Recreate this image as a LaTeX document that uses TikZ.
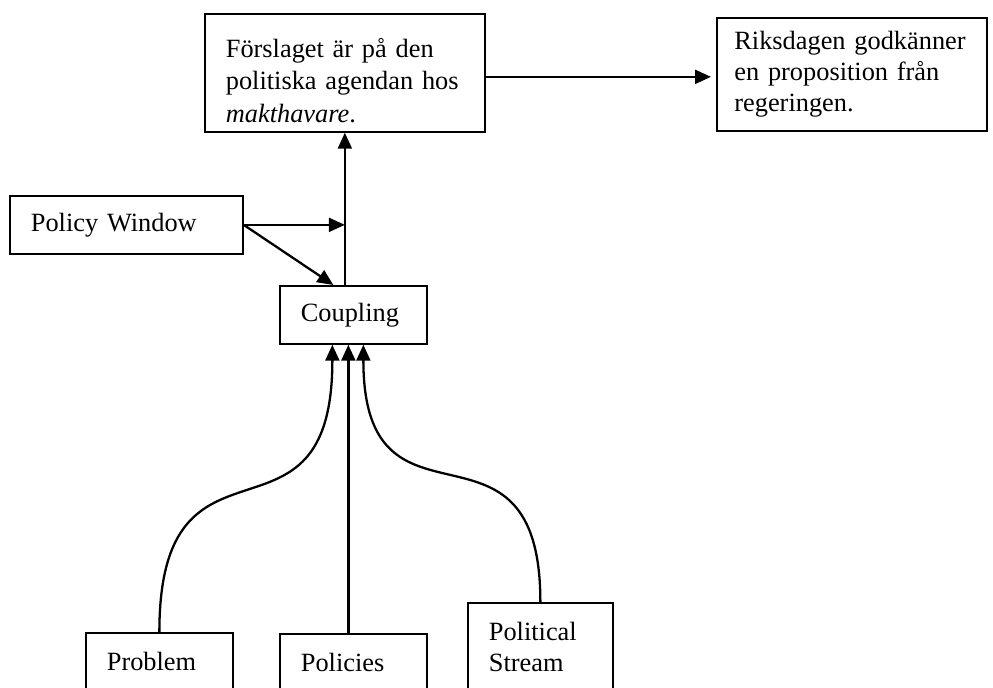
\documentclass[tikz,border=0pt]{standalone}
\usepackage{fontspec}
\setmainfont{Liberation Serif}
\usetikzlibrary{arrows.meta}

\tikzset{
  ruta/.style={draw, line width=1pt, anchor=north west, inner xsep=0.42cm,
    inner ysep=0.1cm, align=left, font=\fontsize{15}{17.5}\selectfont},
  pil/.style={line width=1.3pt, -{Triangle[length=0.32cm,width=0.28cm]}},
}

\begin{document}
\begin{tikzpicture}[x=0.02cm,y=-0.02cm]
      \clip (0,0) rectangle (993,688);

      % rutor
      \node[ruta, text width=4.76cm, minimum height=2.36cm, font=\fontsize{15}{18.5}\selectfont] (agenda) at (204,13)
        {\rule{0pt}{0.68cm}Förslaget är på den\\politiska agendan hos\\\textit{makthavare}.};
      \node[ruta, inner xsep=0.35cm, text width=4.7cm, minimum height=2.26cm] (riksdag) at (716,17)
        {Riksdagen godkänner\\en proposition från\\regeringen.};
      \node[ruta, text width=3.82cm, minimum height=1.16cm] (window) at (9,195) {Policy Window};
      \node[ruta, text width=2.1cm, minimum height=1.16cm] (coupling) at (279,285) {Coupling};

      % strömmar
      \node[ruta, text width=2.1cm, minimum height=1.16cm] (problem) at (85,632) {Problem};
      \node[ruta, text width=2.1cm, minimum height=1.16cm] (policies) at (279,633) {Policies};
      \node[ruta, text width=2.06cm, minimum height=1.76cm] (stream) at (467,602) {Political\\Stream};

      % pilar
      \coordinate (join) at (agenda.south |- window.east);
      \draw[pil, shorten >=0.1cm] ([yshift=-0.08cm]agenda.east) -- ([yshift=-0.08cm]agenda.east -| riksdag.west);
      \draw[pil] (agenda.south |- coupling.north) -- (agenda.south);
      \draw[pil] (window.east) -- (join);
      \draw[pil] (window.east) -- ([xshift=-0.4cm]coupling.north);

      % kopplingen
      \draw[pil] (problem.north) to[out=90,in=-90,looseness=1.7] ([xshift=-0.42cm]coupling.south);
      \draw[pil] ([xshift=-0.1cm]policies.north) -- ([xshift=-0.1cm]coupling.south);
      \draw[pil] (stream.north) to[out=90,in=-90,looseness=1.7] ([xshift=0.2cm]coupling.south);
\end{tikzpicture}
\end{document}
